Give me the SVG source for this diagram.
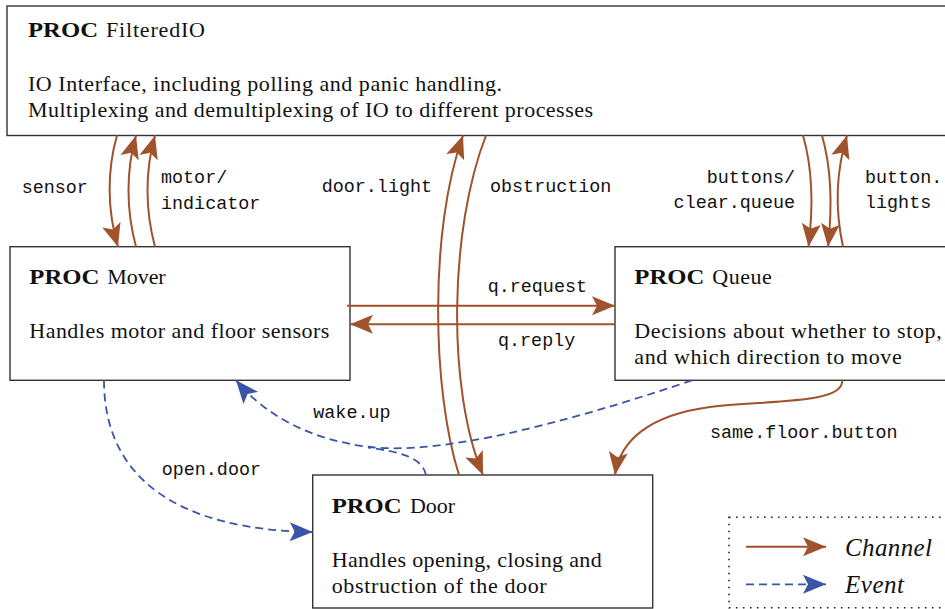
<svg xmlns="http://www.w3.org/2000/svg" width="945" height="609" viewBox="0 0 945 609">
  <style>
    .box { fill: #ffffff; stroke: #333333; stroke-width: 1.4; }
    .title { font-family: "Liberation Serif", "DejaVu Serif", "Noto Serif", serif; font-size: 22px; font-weight: bold; fill: #111111; }
    .name, .body { font-family: "Liberation Serif", "DejaVu Serif", "Noto Serif", serif; font-size: 22px; font-weight: normal; font-style: normal; fill: #111111; }
    .lbl { font-family: "Liberation Mono", "DejaVu Sans Mono", monospace; font-size: 18.4px; fill: #111111; }
    .legend-text { font-family: "Liberation Serif", "DejaVu Serif", "Noto Serif", serif; font-size: 25px; font-style: italic; fill: #111111; }
    .chan { fill: none; stroke: #a0522d; stroke-width: 2; marker-end: url(#arrow-chan); }
    .evt { fill: none; stroke: #3a54a8; stroke-width: 1.8; stroke-dasharray: 8 5; marker-end: url(#arrow-evt); }
    .evt-join { fill: none; stroke: #3a54a8; stroke-width: 1.8; stroke-dasharray: 8 5; }
    .legend-frame { fill: none; stroke: #222222; stroke-width: 1.6; stroke-dasharray: 1.6 5.4; }
  </style>
  <defs>
    <marker id="arrow-chan" markerUnits="userSpaceOnUse" markerWidth="26" markerHeight="22" viewBox="-24 -10 26 20" refX="0" refY="0" orient="auto">
      <path d="M0,0 L-23,-9.5 L-18,0 L-23,9.5 Z" fill="#a0522d"/>
    </marker>
    <marker id="arrow-evt" markerUnits="userSpaceOnUse" markerWidth="26" markerHeight="22" viewBox="-24 -10 26 20" refX="0" refY="0" orient="auto">
      <path d="M0,0 L-23,-9.5 L-18,0 L-23,9.5 Z" fill="#3a54a8"/>
    </marker>
  </defs>

  <rect width="945" height="609" fill="#ffffff"/>

  <!-- process nodes -->
  <g id="node-filteredio">
    <rect class="box" x="7" y="6" width="960" height="129.5"/>
    <text class="title" x="28" y="37" textLength="70" lengthAdjust="spacingAndGlyphs">PROC</text>
    <text class="name" x="106" y="37" textLength="99" lengthAdjust="spacing">FilteredIO</text>
    <text class="body" x="28" y="90.5" textLength="474" lengthAdjust="spacing">IO Interface, including polling and panic handling.</text>
    <text class="body" x="28" y="117" textLength="565" lengthAdjust="spacing">Multiplexing and demultiplexing of IO to different processes</text>
  </g>

  <g id="node-mover">
    <rect class="box" x="10" y="246.7" width="340" height="133.6"/>
    <text class="title" x="29.3" y="284.3" textLength="70" lengthAdjust="spacingAndGlyphs">PROC</text>
    <text class="name" x="107.3" y="284.3" textLength="58.4" lengthAdjust="spacing">Mover</text>
    <text class="body" x="29.3" y="337.7" textLength="300" lengthAdjust="spacing">Handles motor and floor sensors</text>
  </g>

  <g id="node-queue">
    <rect class="box" x="615" y="246.7" width="360" height="133.6"/>
    <text class="title" x="634.3" y="284.3" textLength="70" lengthAdjust="spacingAndGlyphs">PROC</text>
    <text class="name" x="712.3" y="284.3" textLength="59.4" lengthAdjust="spacing">Queue</text>
    <text class="body" x="634.3" y="337.7" textLength="307.4" lengthAdjust="spacing">Decisions about whether to stop,</text>
    <text class="body" x="634.3" y="364.3" textLength="267.4" lengthAdjust="spacing">and which direction to move</text>
  </g>

  <g id="node-door">
    <rect class="box" x="312.7" y="475" width="340" height="133"/>
    <text class="title" x="331.7" y="513.3" textLength="70" lengthAdjust="spacingAndGlyphs">PROC</text>
    <text class="name" x="410" y="513.3" textLength="45" lengthAdjust="spacing">Door</text>
    <text class="body" x="331.7" y="566.7" textLength="270" lengthAdjust="spacing">Handles opening, closing and</text>
    <text class="body" x="331.7" y="593.3" textLength="215" lengthAdjust="spacing">obstruction of the door</text>
  </g>

  <!-- channels and events -->
  <g id="connectors">
    <!-- FilteredIO <-> Mover -->
    <path class="chan" d="M117,135.5 C107,170 107,210 118,246.7"/>
    <path class="chan" d="M136,246.7 C126,210 126,170 136,135.5"/>
    <path class="chan" d="M155,246.7 C145,210 145,170 155,135.5"/>
    <text class="lbl" x="21.7" y="192.7">sensor</text>
    <text class="lbl" x="161" y="183.3">motor/</text>
    <text class="lbl" x="161" y="209">indicator</text>

    <!-- FilteredIO <-> Door -->
    <path class="chan" d="M459,475 C432,390 429,230 463,135.5"/>
    <path class="chan" d="M486,135.5 C449,230 447,390 483,475"/>
    <text class="lbl" x="321.7" y="191.7">door.light</text>
    <text class="lbl" x="490" y="191.7">obstruction</text>

    <!-- FilteredIO <-> Queue -->
    <path class="chan" d="M803,135.5 C813,170 813,210 808.5,246.7"/>
    <path class="chan" d="M822,135.5 C832,170 832,210 828,246.7"/>
    <path class="chan" d="M843,246.7 C835,210 835,175 847,135.5"/>
    <text class="lbl" x="795" y="182.7" text-anchor="end">buttons/</text>
    <text class="lbl" x="795" y="208.3" text-anchor="end">clear.queue</text>
    <text class="lbl" x="865" y="182.7">button.</text>
    <text class="lbl" x="865" y="208.3">lights</text>

    <!-- Mover <-> Queue -->
    <path class="chan" d="M347,305.7 L615,305.7"/>
    <path class="chan" d="M615,324.3 L350,324.3"/>
    <text class="lbl" x="487.7" y="291.7">q.request</text>
    <text class="lbl" x="498" y="346">q.reply</text>

    <!-- Queue -> Door -->
    <path class="chan" d="M842,380.3 C845,405 760,400 710,407 C650,415 620,440 615,475"/>
    <text class="lbl" x="710" y="438">same.floor.button</text>

    <!-- wake.up from Queue and Door to Mover -->
    <path class="evt" d="M692,380.3 C560,425 440,455 370,447 C310,440 265,415 236,380.3"/>
    <path class="evt-join" d="M426,475 C422,457 400,452 368,447.5"/>
    <text class="lbl" x="313.3" y="418.3">wake.up</text>

    <!-- Mover -> Door -->
    <path class="evt" d="M104,380.3 C104,480 180,530 312.7,532"/>
    <text class="lbl" x="161.7" y="475">open.door</text>
  </g>

  <!-- legend -->
  <g id="legend">
    <rect class="legend-frame" x="729" y="517.3" width="260" height="90.5"/>
    <path class="chan" d="M746,546.7 L826,546.7"/>
    <text class="legend-text" x="845" y="556" textLength="87" lengthAdjust="spacing">Channel</text>
    <path class="evt" d="M746,584.3 L826,584.3"/>
    <text class="legend-text" x="845" y="593" textLength="59" lengthAdjust="spacing">Event</text>
  </g>
</svg>
